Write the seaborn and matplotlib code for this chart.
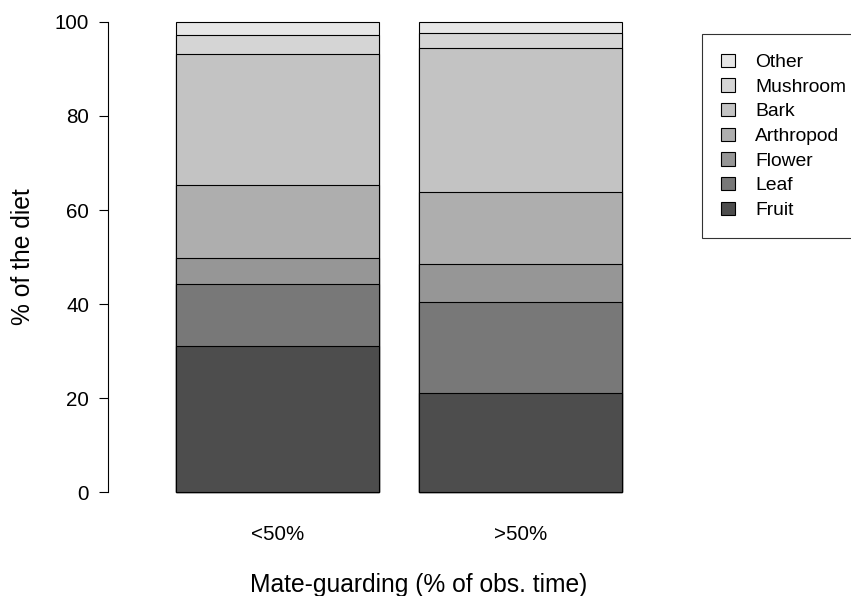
import numpy as np
import matplotlib
matplotlib.use("Agg")
import matplotlib.pyplot as plt
import matplotlib.patches as mpatches
import seaborn as sns

# Diet composition (% of feeding records) by mate-guarding class
groups = ["<50%", ">50%"]
categories = ["Fruit", "Leaf", "Flower", "Arthropod", "Bark", "Mushroom", "Other"]
fruit = [31.1, 21.2]
leaf = [13.2, 19.3]
flower = [5.5, 8.0]
arthropod = [15.45, 15.3]
bark = [27.85, 30.6]
mushroom = [4.1, 3.3]
other = [2.8, 2.3]

# Grey ramp from dark (bottom) to light (top)
colors = ["#4D4D4D", "#787878", "#969696", "#AEAEAE", "#C3C3C3", "#D5D5D5", "#E6E6E6"]

sns.set_theme(style="white")
plt.rcParams["font.family"] = ["Liberation Sans", "DejaVu Sans"]

W, H = 851, 596
fig = plt.figure(figsize=(W / 100, H / 100), dpi=100)
ax = fig.add_axes([108 / W, (H - 511.3) / H, (641.7 - 108) / W, (511.3 - 2.9) / H])

layers = np.array([fruit, leaf, flower, arthropod, bark, mushroom, other])
cum = np.cumsum(layers, axis=0)

# Stacked bars: draw cumulative totals from the top layer down
for i in reversed(range(len(categories))):
    sns.barplot(x=groups, y=cum[i], color=colors[i], saturation=1,
                width=0.838, edgecolor="black", linewidth=0.8,
                errorbar=None, ax=ax)

ax.set_xlim(-0.7, 1.5)
ax.set_ylim(-4, 104)
ax.set_yticks([0, 20, 40, 60, 80, 100])
ax.set_xlabel("")
ax.set_ylabel("")

for s in ["top", "right", "bottom"]:
    ax.spines[s].set_visible(False)
ax.spines["left"].set_bounds(0, 100)
ax.spines["left"].set_color("black")
ax.spines["left"].set_linewidth(0.8)

ax.tick_params(axis="y", which="both", left=True, length=6.5, width=0.8,
               color="black", pad=7, labelsize=14.8, labelcolor="black")
ax.tick_params(axis="x", length=0, pad=10, labelsize=14.8, labelcolor="black")

fig.text(23 / W, 1 - 257 / H, "% of the diet", rotation=90,
         ha="center", va="center", fontsize=17.7, color="black")
fig.text(418.5 / W, 1 - 592 / H, "Mate-guarding (% of obs. time)",
         ha="center", va="baseline", fontsize=17.7, color="black")

handles = [mpatches.Patch(facecolor=colors[i], edgecolor="black", linewidth=0.8,
                          label=categories[i])
           for i in reversed(range(len(categories)))]
leg = fig.legend(handles=handles, loc="upper left",
                 bbox_to_anchor=(701.7 / W, 1 - 34.3 / H),
                 bbox_transform=fig.transFigure,
                 fontsize=13.9, frameon=True, fancybox=False, shadow=False,
                 borderpad=1.0, labelspacing=0.37, handlelength=0.7,
                 handleheight=0.7, handletextpad=1.07, borderaxespad=0)
leg.get_frame().set_edgecolor("black")
leg.get_frame().set_linewidth(0.8)
for t in leg.get_texts():
    t.set_color("black")

fig.savefig("out.png", dpi=100)
